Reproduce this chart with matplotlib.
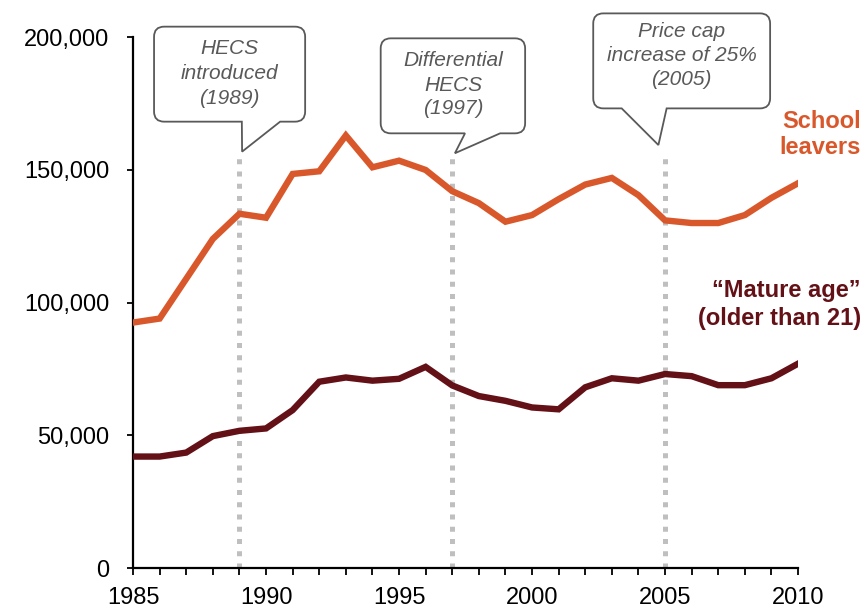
import numpy as np
import matplotlib.pyplot as plt
from matplotlib.path import Path
from matplotlib.patches import PathPatch
from matplotlib.ticker import FuncFormatter, MultipleLocator

plt.rcParams['font.family'] = ['Liberation Sans', 'DejaVu Sans']

years = np.arange(1985, 2011)

# commencing domestic students, by age group
school_leavers = [92500, 94000, 109000, 124000, 133500, 132000, 148500, 149500,
                  163000, 151000, 153500, 150000, 142000, 137500, 130500, 133000,
                  139000, 144500, 147000, 140500, 131000, 130000, 130000, 133000,
                  139500, 145000]
mature_age = [42000, 42000, 43500, 49700, 51700, 52600, 59500, 70200,
              71800, 70600, 71300, 75800, 68800, 64800, 63000, 60500,
              59800, 68100, 71500, 70600, 73100, 72300, 68900, 68900,
              71500, 77000]

# policy changes
event_years = [1989, 1997, 2005]
event_text = [['HECS', 'introduced', '(1989)'],
              ['Differential', 'HECS', '(1997)'],
              ['Price cap', 'increase of 25%', '(2005)']]

ORANGE = '#D9582B'
MAROON = '#631017'
GREY_TXT = '#595959'

fig = plt.figure(figsize=(8.65, 6.09), dpi=100)
ax = fig.add_axes([0.1538, 0.0673, 0.7688, 0.8715])

for yr in event_years:
    ax.plot([yr, yr], [0, 156500], color='#BFBFBF', lw=3.6,
            dashes=(1, 1.45), solid_capstyle='butt', dash_capstyle='butt', zorder=1)

ax.plot(years, school_leavers, color=ORANGE, lw=4.6, zorder=3, solid_joinstyle='miter')
ax.plot(years, mature_age, color=MAROON, lw=4.6, zorder=3, solid_joinstyle='miter')

ax.set_xlim(1985, 2010)
ax.set_ylim(0, 200000)
ax.xaxis.set_major_locator(MultipleLocator(5))
ax.xaxis.set_minor_locator(MultipleLocator(1))
ax.yaxis.set_major_locator(MultipleLocator(50000))
ax.yaxis.set_major_formatter(FuncFormatter(lambda v, p: '{:,.0f}'.format(v)))
ax.tick_params(axis='both', labelsize=17, width=1.3, direction='out', colors='black')
ax.tick_params(axis='x', which='major', length=5, pad=9)
ax.tick_params(axis='x', which='minor', length=5, width=1.3)
ax.tick_params(axis='y', length=4, pad=13)
for s in ['top', 'right']:
    ax.spines[s].set_visible(False)
for s in ['left', 'bottom']:
    ax.spines[s].set_linewidth(1.6)


def callout(x0, x1, y0, y1, ta, tb, tip, rx=0.38, ry=3800):
    # rounded box with a pointer hanging from the bottom edge
    verts = [(x0 + rx, y1), (x1 - rx, y1), (x1, y1), (x1, y1 - ry),
             (x1, y0 + ry), (x1, y0), (x1 - rx, y0),
             (tb, y0), tip, (ta, y0),
             (x0 + rx, y0), (x0, y0), (x0, y0 + ry),
             (x0, y1 - ry), (x0, y1), (x0 + rx, y1), (x0 + rx, y1)]
    codes = [Path.MOVETO, Path.LINETO, Path.CURVE3, Path.CURVE3,
             Path.LINETO, Path.CURVE3, Path.CURVE3,
             Path.LINETO, Path.LINETO, Path.LINETO,
             Path.LINETO, Path.CURVE3, Path.CURVE3,
             Path.LINETO, Path.CURVE3, Path.CURVE3, Path.CLOSEPOLY]
    ax.add_patch(PathPatch(Path(verts, codes), facecolor='white', edgecolor=GREY_TXT,
                           lw=1.3, clip_on=False, zorder=5))


boxes = [(1985.79, 1991.47, 168200, 204000, 1989.09, 1990.53, 156900),
         (1994.31, 1999.74, 163800, 199600, 1997.48, 1998.80, 156300),
         (2002.30, 2008.95, 173200, 209000, 2003.37, 2005.06, 159400)]
line_y = [[195900, 186500, 177100],
          [191400, 182000, 173200],
          [202100, 193300, 183900]]

for yr, (x0, x1, y0, y1, ta, tb, tipy), lines, ys in zip(event_years, boxes, event_text, line_y):
    tipx = yr + 0.1 if yr < 2005 else yr - 0.25
    callout(x0, x1, y0, y1, ta, tb, (tipx, tipy))
    for t, y in zip(lines, ys):
        ax.text((x0 + x1) / 2, y, t, ha='center', va='center', fontsize=15,
                style='italic', color=GREY_TXT, zorder=6, clip_on=False)

fig.text(861 / 865, 1 - 122 / 609, 'School', ha='right', va='center',
         fontsize=17, fontweight='bold', color=ORANGE)
fig.text(861 / 865, 1 - 148 / 609, 'leavers', ha='right', va='center',
         fontsize=17, fontweight='bold', color=ORANGE)
fig.text(861 / 865, 1 - 291 / 609, '\u201cMature age\u201d', ha='right', va='center',
         fontsize=17, fontweight='bold', color=MAROON)
fig.text(861 / 865, 1 - 318 / 609, '(older than 21)', ha='right', va='center',
         fontsize=17, fontweight='bold', color=MAROON)

fig.savefig('out.png', dpi=100)
